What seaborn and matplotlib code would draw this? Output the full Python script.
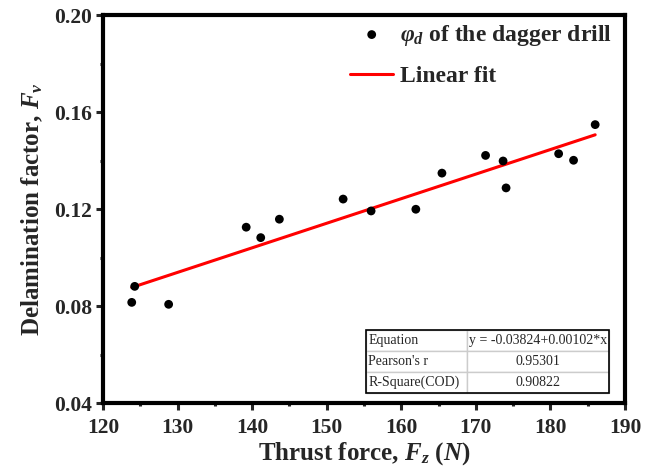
import numpy as np
import pandas as pd
import seaborn as sns
import matplotlib
matplotlib.use('Agg')
import matplotlib.pyplot as plt
from matplotlib.ticker import MultipleLocator, FormatStrFormatter
from matplotlib.patches import Rectangle


# thrust force (N) and delamination factor
thrust = [123.85, 124.25, 128.8, 139.2, 141.15, 143.65, 152.2, 155.95,
          161.95, 165.45, 171.3, 173.65, 174.05, 181.1, 183.1, 186.0]
delam = [0.0815, 0.0881, 0.0807, 0.1125, 0.1082, 0.1158, 0.1241, 0.1192,
         0.1199, 0.1348, 0.1421, 0.1398, 0.1287, 0.1428, 0.1401, 0.1548]

table_rows = [['Equation', 'y = -0.03824+0.00102*x'],
              ["Pearson's r", '0.95301'],
              ['R-Square(COD)', '0.90822']]


sns.set_style('ticks')
plt.rcParams['font.family'] = ['Liberation Serif', 'DejaVu Serif']
plt.rcParams['mathtext.fontset'] = 'custom'
plt.rcParams['mathtext.rm'] = 'Liberation Serif:bold'
plt.rcParams['mathtext.it'] = 'Liberation Serif:italic:bold'
plt.rcParams['mathtext.bf'] = 'Liberation Serif:bold'

df = pd.DataFrame({'Fz': thrust, 'Fv': delam})

fig, ax = plt.subplots(figsize=(6.57, 4.69), dpi=100)
fig.subplots_adjust(left=0.1568, right=0.9513, top=0.968, bottom=0.1407)

sns.scatterplot(x='Fz', y='Fv', data=df, ax=ax, color='black', s=40,
                edgecolor='none', label=r'$\varphi_d$ of the dagger drill', zorder=3)

# linear fit from the data
k, b = np.polyfit(df['Fz'], df['Fv'], 1)
xfit = np.array([df['Fz'].min(), df['Fz'].max()])
sns.lineplot(x=xfit, y=b + k * xfit, ax=ax, color='red', linewidth=2.2, label='Linear fit', zorder=2)

ax.set_xlim(120, 190)
ax.set_ylim(0.04, 0.20)
ax.xaxis.set_major_locator(MultipleLocator(10))
ax.xaxis.set_minor_locator(MultipleLocator(5))
ax.yaxis.set_major_locator(MultipleLocator(0.04))
ax.yaxis.set_minor_locator(MultipleLocator(0.02))
ax.yaxis.set_major_formatter(FormatStrFormatter('%.2f'))
ax.tick_params(which='major', direction='out', length=5, width=2.2, labelsize=15.5)
ax.tick_params(which='minor', direction='out', length=2.5, width=2.2)
ax.tick_params(axis='x', which='major', pad=6)
ax.tick_params(axis='y', which='major', pad=3)
ax.tick_params(top=False, right=False, which='both')
for lab in ax.get_xticklabels() + ax.get_yticklabels():
    lab.set_fontweight('bold')
for sp in ax.spines.values():
    sp.set_linewidth(3)
    sp.set_color('black')

ax.set_xlabel(r'Thrust force, $F_z$ ($N$)', fontsize=18, fontweight='bold', labelpad=1)
ax.set_ylabel(r'Delamination factor, $F_v$', fontsize=18, fontweight='bold', labelpad=6)

leg = ax.legend(loc='upper right', bbox_to_anchor=(0.975, 0.98), frameon=False,
                prop={'size': 17, 'weight': 'bold'}, handlelength=1.8, handletextpad=0.3,
                borderaxespad=0, borderpad=0, labelspacing=0.75)

# stats table
tx, ty, tw, th = 0.504, 0.0265, 0.466, 0.162
tb = ax.table(cellText=table_rows, cellLoc='center', colWidths=[0.414, 0.586],
              bbox=[tx, ty, tw, th], zorder=5)
tb.auto_set_font_size(False)
for (r, c), cell in tb.get_celld().items():
    cell.set_edgecolor('#cccccc')
    cell.set_linewidth(1)
    cell.set_facecolor('white')
    cell.get_text().set_fontsize(10)
    if c == 0:
        cell.get_text().set_horizontalalignment('left')
        cell.PAD = 0.02
ax.add_patch(Rectangle((tx, ty), tw, th, transform=ax.transAxes,
                       fill=False, edgecolor='black', linewidth=1.2, zorder=6))

plt.savefig('out.png', dpi=100)
